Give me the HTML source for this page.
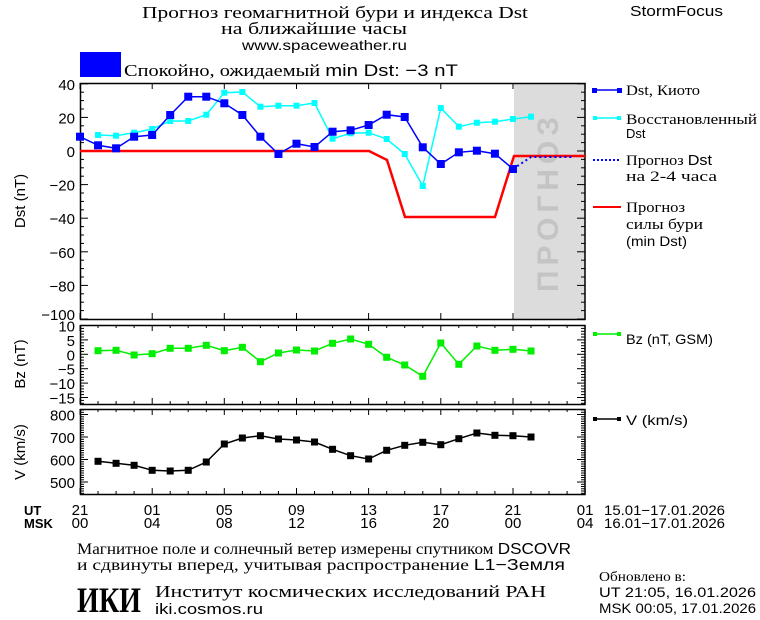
<!DOCTYPE html>
<html><head><meta charset="utf-8"><style>
html,body{margin:0;padding:0;background:#fff;}
svg{display:block;}
text{font-family:"Liberation Sans",sans-serif;fill:#000;}
.s{font-family:"Liberation Serif","DejaVu Serif",serif;}
</style></head><body>
<svg id="c" width="760" height="620" viewBox="0 0 760 620" xmlns="http://www.w3.org/2000/svg" font-size="14">
<rect width="760" height="620" fill="#fff"/>
<text class="s" x="142" y="18" font-size="17" textLength="386" lengthAdjust="spacingAndGlyphs">Прогноз геомагнитной бури и индекса Dst</text>
<text class="s" x="221" y="34" font-size="17" textLength="186" lengthAdjust="spacingAndGlyphs">на ближайшие часы</text>
<text x="242" y="50" font-size="14" textLength="165" lengthAdjust="spacingAndGlyphs">www.spaceweather.ru</text>
<text x="630" y="16" font-size="15" textLength="93" lengthAdjust="spacingAndGlyphs">StormFocus</text>
<rect x="80" y="52" width="41" height="25" fill="#0000ff"/>
<text class="s" x="124" y="76" font-size="17" textLength="334" lengthAdjust="spacingAndGlyphs">Спокойно, ожидаемый <tspan font-family="Liberation Sans">min Dst: −3 nT</tspan></text>
<rect x="514" y="83" width="71" height="236" fill="#dcdcdc"/>
<text transform="translate(558,292) rotate(-90)" font-size="30" font-weight="bold" fill="#c4c4c4" textLength="175" lengthAdjust="spacing" style="fill:#c4c4c4">ПРОГНОЗ</text>
<g id="g"></g>
<!-- legend -->
<line x1="594" y1="90" x2="620" y2="90" stroke="#0000ff" stroke-width="1.5"/><rect x="592" y="88" width="5" height="5" fill="#0000ff"/><rect x="617" y="88" width="5" height="5" fill="#0000ff"/>
<text class="s" x="626" y="95" font-size="15" textLength="74" lengthAdjust="spacingAndGlyphs">Dst, Киото</text>
<line x1="594" y1="118" x2="620" y2="118" stroke="#00ffff" stroke-width="1.5"/><rect x="593" y="116" width="4" height="4" fill="#00ffff"/><rect x="617" y="116" width="4" height="4" fill="#00ffff"/>
<text class="s" x="626" y="124" font-size="15" textLength="131" lengthAdjust="spacingAndGlyphs">Восстановленный</text><text x="626" y="138" font-size="13">Dst</text>
<line x1="593" y1="160" x2="620" y2="160" stroke="#0000ff" stroke-width="2" stroke-dasharray="2,2"/>
<text class="s" x="626" y="165" font-size="15" textLength="86" lengthAdjust="spacingAndGlyphs">Прогноз <tspan font-family="Liberation Sans">Dst</tspan></text>
<text class="s" x="626" y="181" font-size="15" textLength="91" lengthAdjust="spacingAndGlyphs">на 2-4 часа</text>
<line x1="593" y1="207" x2="621" y2="207" stroke="#ff0000" stroke-width="2"/>
<text class="s" x="626" y="212" font-size="15" textLength="59" lengthAdjust="spacingAndGlyphs">Прогноз</text>
<text class="s" x="626" y="229" font-size="15" textLength="77" lengthAdjust="spacingAndGlyphs">силы бури</text>
<text x="626" y="246" font-size="14" textLength="61" lengthAdjust="spacingAndGlyphs">(min Dst)</text>
<line x1="594" y1="334" x2="620" y2="334" stroke="#00ee00" stroke-width="1.5"/><rect x="593" y="332" width="4" height="4" fill="#00ee00"/><rect x="617" y="332" width="4" height="4" fill="#00ee00"/>
<text x="626" y="344" font-size="14" textLength="87" lengthAdjust="spacingAndGlyphs">Bz (nT, GSM)</text>
<line x1="594" y1="419" x2="620" y2="419" stroke="#000" stroke-width="1.5"/><rect x="593" y="417" width="4" height="4"/><rect x="617" y="417" width="4" height="4"/>
<text x="626" y="425" font-size="14" textLength="62" lengthAdjust="spacingAndGlyphs">V (km/s)</text>
<!-- y labels -->
<text transform="translate(25,201) rotate(-90)" text-anchor="middle" font-size="15">Dst (nT)</text>
<text transform="translate(25,364) rotate(-90)" text-anchor="middle" font-size="15">Bz (nT)</text>
<text transform="translate(25,452) rotate(-90)" text-anchor="middle" font-size="15">V (km/s)</text>
<!-- bottom -->
<text x="24" y="515" font-size="13" font-weight="bold">UT</text>
<text x="24" y="528" font-size="13" font-weight="bold">MSK</text>
<text x="604" y="515" font-size="14" textLength="121" lengthAdjust="spacingAndGlyphs">15.01−17.01.2026</text>
<text x="604" y="528" font-size="14" textLength="121" lengthAdjust="spacingAndGlyphs">16.01−17.01.2026</text>
<text class="s" x="77" y="554" font-size="16" textLength="494" lengthAdjust="spacingAndGlyphs">Магнитное поле и солнечный ветер измерены спутником <tspan font-family="Liberation Sans">DSCOVR</tspan></text>
<text class="s" x="77" y="570" font-size="16" textLength="488" lengthAdjust="spacingAndGlyphs">и сдвинуты вперед, учитывая распространение <tspan font-family="Liberation Sans">L1−Земля</tspan></text>
<text class="s" x="599" y="581" font-size="14" textLength="87" lengthAdjust="spacingAndGlyphs">Обновлено в:</text>
<text x="599" y="597" font-size="14" textLength="157" lengthAdjust="spacingAndGlyphs">UT   21:05, 16.01.2026</text>
<text x="599" y="613" font-size="14" textLength="157" lengthAdjust="spacingAndGlyphs">MSK 00:05, 17.01.2026</text>
<text class="s" x="77" y="612" font-size="36" font-weight="bold" textLength="64" lengthAdjust="spacingAndGlyphs">ИКИ</text>
<text class="s" x="155" y="597" font-size="17" textLength="391" lengthAdjust="spacingAndGlyphs">Институт космических исследований РАН</text>
<text x="155" y="614" font-size="15" textLength="108" lengthAdjust="spacingAndGlyphs">iki.cosmos.ru</text>
</svg>
<script>
var g=document.getElementById('g'),h='';
function X(t){return 80+18.04*t;}
function L(a,b,c,d,s,w){h+='<line x1="'+a+'" y1="'+b+'" x2="'+c+'" y2="'+d+'" stroke="'+(s||'#000')+'" stroke-width="'+(w||1)+'"/>';}
function T(x,y,t,a){h+='<text x="'+x+'" y="'+y+'" font-size="15" text-anchor="'+(a||'end')+'">'+t+'</text>';}
function poly(xs,ys,col,w,ms,dash){var p=xs.map(function(x,i){return x.toFixed(1)+','+ys[i].toFixed(1)}).join(' ');
h+='<polyline points="'+p+'" fill="none" stroke="'+col+'" stroke-width="'+w+'"'+(dash?' stroke-dasharray="'+dash+'"':'')+'/>';
if(ms)xs.forEach(function(x,i){h+='<rect x="'+(x-ms/2)+'" y="'+(ys[i]-ms/2)+'" width="'+ms+'" height="'+ms+'" fill="'+col+'"/>';});}
var P=[[83,319],[325,404],[409,494]];
P.forEach(function(p,k){h+='<rect x="80.5" y="'+p[0]+'.5" width="504.5" height="'+(p[1]-p[0])+'" fill="none" stroke="#000" stroke-width="1.5"/>';
for(var t=0;t<=28;t++){var x=X(t).toFixed(1),mj=t%4==0;
 if(k==0&&!mj)continue;var l=mj?6:3;L(x,p[0],x,p[0]+l);L(x,p[1],x,p[1]-l);}});
function yd(v){return 151-1.68*v;}
for(var v=-100;v<=40;v+=5){var y=yd(v).toFixed(1),l=v%20==0?8:4;L(80,y,80+l,y);L(585,y,585-l,y);}
[40,20,0,-20,-40,-60,-80].forEach(function(v){T(75,yd(v)+6,String(v).replace('-','−'));});T(75,320,'−100');
function yb(v){return 354.3-2.88*v;}
for(v=-17;v<=10;v++){y=yb(v).toFixed(1);l=v%5==0?8:4;L(80,y,80+l,y);L(585,y,585-l,y);}
[10,5,0,-5,-10,-15].forEach(function(v){T(75,yb(v)+6,String(v).replace('-','−'));});
function yv(v){return 482-0.225*(v-500);}
for(v=450;v<=820;v+=10){y=yv(v).toFixed(1);l=v%100==0?8:4;if(yv(v)<409||yv(v)>494)continue;L(80,y,80+l,y);L(585,y,585-l,y);}
[800,700,600,500].forEach(function(v){T(75,yv(v)+6,v);});
var ut=['21','01','05','09','13','17','21','01'],ms=['00','04','08','12','16','20','00','04'];
for(var i=0;i<8;i++){T(X(i*4),515,ut[i],'middle');T(X(i*4),528,ms[i],'middle');}
poly([80,369,387,405,495,514,585],[151,151,160,217,217,156,156],'#ff0000',2.5,0);
var cy=[135,135.7,132.7,129,121,121,114.7,92.7,92,106.7,105.7,105.7,103,138.7,133.3,132.7,139,154,186,108,126.7,122.7,121.7,119,116.7];
poly(cy.map(function(_,i){return X(i+1)}),cy,'#00ffff',1.5,6);
var by=[136.7,145.3,148.3,136.7,135,115,96.7,96.7,103.3,115,136.7,154,143.7,147,131.7,130.3,125,114.7,117,147.3,164,152.3,150.7,153.7,169];
poly(by.map(function(_,i){return X(i)}),by,'#0000ff',1.5,8);
poly([X(24),X(25),X(27.3)],[169,157,157],'#0000ff',2,0,'2,3');
var bz=[350.7,350.3,355,353.7,348.3,348.3,345.3,350.7,347.3,361.7,353,350,351,343.3,339,344.3,357.3,365,376.3,343,364.3,346,350.3,349.3,351];
poly(bz.map(function(_,i){return X(i+1)}),bz,'#00ee00',1.5,7);
var vv=[461.3,463.3,465.3,470.3,471,470.3,462,444,438,435.7,439,440,442,449.3,455.7,459,450.3,445.3,442.3,444.7,438.7,433,435.3,435.7,437];
poly(vv.map(function(_,i){return X(i+1)}),vv,'#000',1.5,7);
g.innerHTML=h;
</script>
</body></html>
